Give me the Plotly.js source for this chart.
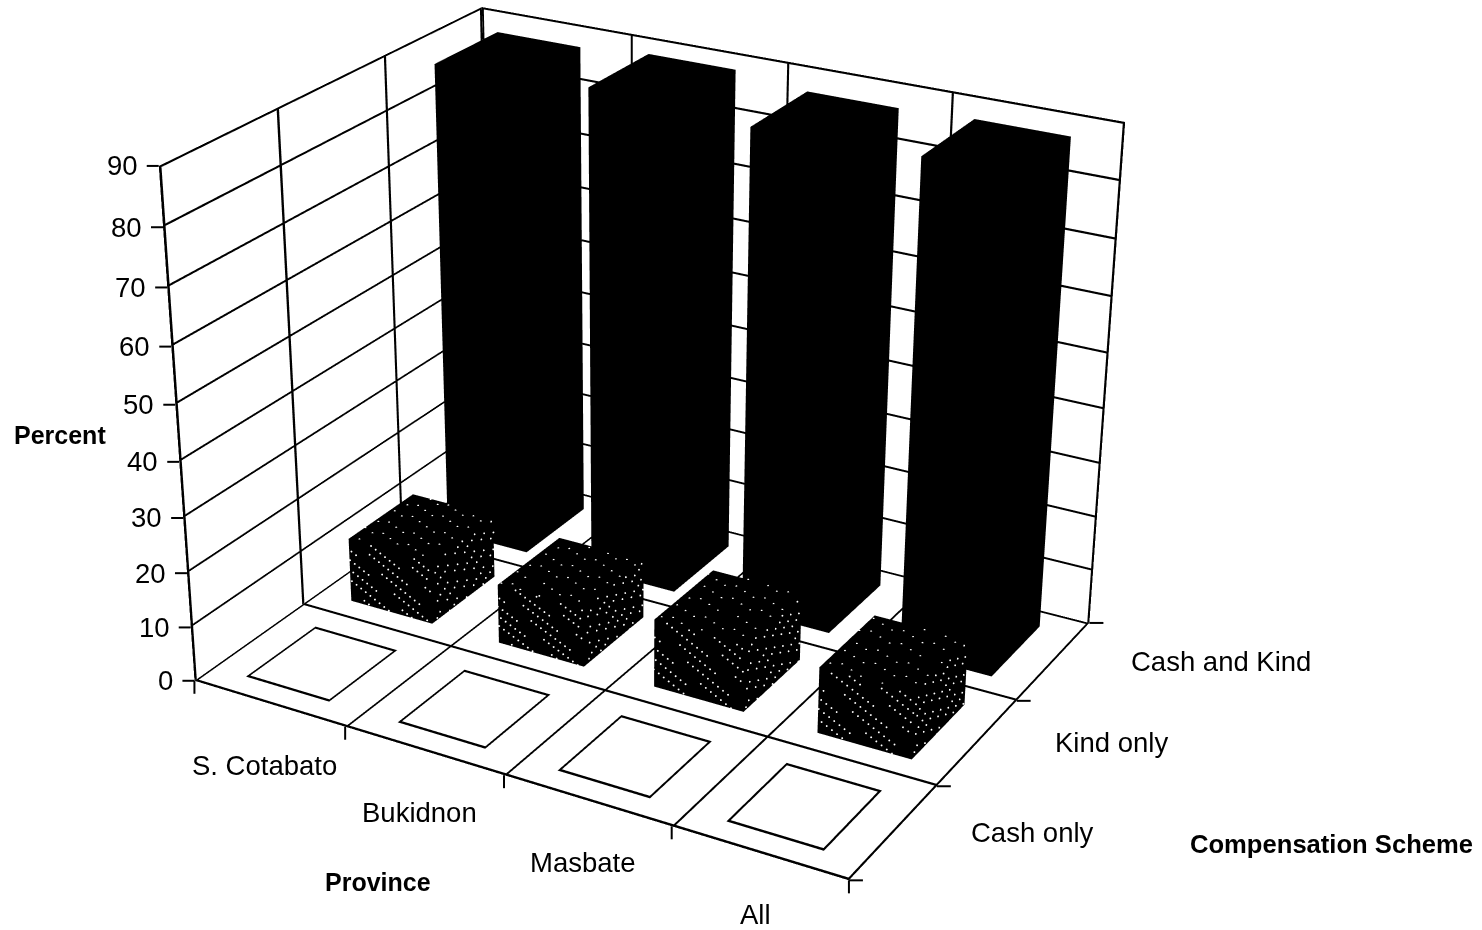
<!DOCTYPE html><html><head><meta charset="utf-8"><script src="https://cdn.plot.ly/plotly-3.0.1.min.js"></script>
<style>html,body{margin:0;padding:0;background:#fff;overflow:hidden;width:1482px;height:930px}#p{position:absolute;left:-217px;top:-831px;width:1700px;height:2640px}</style></head><body><div id="p"></div>
<script>
// data
var provinces=['S. Cotabato','Bukidnon','Masbate','All'];
var schemes=['Cash only','Kind only','Cash and Kind'];
var cashOnly=[0,0,0,0];
var kindOnly=[12,11,12.5,12];
var cashAndKind=[88,89,87.5,88];
var percentTicks=[0,10,20,30,40,50,60,70,80,90];
var provinceEdges=[0,1,2,3,4];
var schemeEdges=[0,1,2,3];

// view of the reference
var aspect={x:1.3356,y:1.0231,z:1};
var eye={x:2.5631,y:-4.5248,z:2.3788};
var center={x:0.051,y:-0.1503,z:-0.0872};
var DIV={left:-217,top:-831,w:1700,h:2640};
var GAPX0=.218,GAPX1=.228,GAPY=.175,INK='#000';
var LABEL='Liberation Sans';
var LX=.013,LY=.021,LZ=.38; // line thickness expressed per axis

function proj(x,y,z){ // data -> window pixels, same camera as the scene
 var p=[(x/4-.5)*aspect.x,(y/3-.5)*aspect.y,(z/90-.5)*aspect.z],e=[eye.x,eye.y,eye.z],c=[center.x,center.y,center.z];
 var f=[c[0]-e[0],c[1]-e[1],c[2]-e[2]],l=Math.hypot(f[0],f[1],f[2]);f=f.map(function(v){return v/l});
 var s=[f[1],-f[0],0],sl=Math.hypot(s[0],s[1]);s=s.map(function(v){return v/sl});
 var u=[s[1]*f[2]-s[2]*f[1],s[2]*f[0]-s[0]*f[2],s[0]*f[1]-s[1]*f[0]];
 var d=[p[0]-e[0],p[1]-e[1],p[2]-e[2]];
 var X=d[0]*s[0]+d[1]*s[1]+d[2]*s[2],Y=d[0]*u[0]+d[1]*u[1]+d[2]*u[2],Z=d[0]*f[0]+d[1]*f[1]+d[2]*f[2];
 var F=DIV.h/2/Math.tan(Math.PI/8);
 return [DIV.left+DIV.w/2+F*X/Z,DIV.top+DIV.h/2-F*Y/Z];}
function px(v){return (v-DIV.left)/DIV.w}
function py(v){return 1-(v-DIV.top)/DIV.h}

var traces=[];
// grid and outlines as thin ribbons lying in their plane
var R={x:[],y:[],z:[],i:[],j:[],k:[]};
function ribbon(a,b,o){var n=R.x.length;
 [[a,[0,0,0]],[b,[0,0,0]],[b,o],[a,o]].forEach(function(q){R.x.push(q[0][0]+q[1][0]);R.y.push(q[0][1]+q[1][1]);R.z.push(q[0][2]+q[1][2])});
 R.i.push(n,n);R.j.push(n+1,n+2);R.k.push(n+2,n+3);}
function wx(e){return e>=4?-LX:LX}
function wy(e){return e>=3?-LY:LY}
function wz(e){return e>=90?-LZ:LZ}
provinceEdges.forEach(function(e){ribbon([e,0,0],[e,3,0],[wx(e),0,0]);ribbon([e,3,0],[e,3,90],[wx(e),0,0])});
schemeEdges.forEach(function(e){ribbon([0,e,0],[4,e,0],[0,wy(e),0]);ribbon([0,e,0],[0,e,90],[0,wy(e),0])});
percentTicks.forEach(function(t){if(t>0){ribbon([0,0,t],[0,3,t],[0,0,wz(t)]);ribbon([0,3,t],[4,3,t],[0,0,wz(t)])}});

// sparse light flecks of the Kind only bars' pattern fill (fixed low-discrepancy layout)
var SX=[],SY=[],SZ=[];
function frac(v){return v-Math.floor(v)}
function stipple(ix,x0,x1,y0,y1,h){
 var n,u,v;
 for(n=1;n<=70;n++){u=frac(n*.6180+ix*.37);v=frac(n*.7549+ix*.21);SX.push(x0+(x1-x0)*u);SY.push(y0-.004);SZ.push(h*v);}
 for(n=1;n<=55;n++){u=frac(n*.5698+ix*.13);v=frac(n*.8191+ix*.41);SX.push(x1+.004);SY.push(y0+(y1-y0)*u);SZ.push(h*v);}
 for(n=1;n<=40;n++){u=frac(n*.6823+ix*.29);v=frac(n*.4656+ix*.17);SX.push(x0+(x1-x0)*u);SY.push(y0+(y1-y0)*v);SZ.push(h+.05);}
}
function bar(ix,iy,h,col){
 var x0=ix+GAPX0,x1=ix+1-GAPX1,y0=iy+GAPY,y1=iy+1-GAPY;
 if(h===0){ribbon([x0,y0,0],[x1,y0,0],[0,LY,0]);ribbon([x0,y1,0],[x1,y1,0],[0,-LY,0]);ribbon([x0,y0,0],[x0,y1,0],[LX,0,0]);ribbon([x1,y0,0],[x1,y1,0],[-LX,0,0]);return;}
 traces.push({type:'mesh3d',x:[x0,x1,x1,x0,x0,x1,x1,x0],y:[y0,y0,y1,y1,y0,y0,y1,y1],z:[0,0,0,0,h,h,h,h],
  i:[7,0,0,0,4,4,6,6,4,0,3,2],j:[3,4,1,2,5,6,5,2,0,1,6,3],k:[0,7,2,3,6,7,1,1,5,5,7,6],color:col,flatshading:true,
  lighting:{ambient:1,diffuse:0,specular:0,fresnel:0,roughness:1},hoverinfo:'skip',showscale:false});
 if(iy===1)stipple(ix,x0,x1,y0,y1,h);
}
provinces.forEach(function(p,i){bar(i,2,cashAndKind[i],'#000');bar(i,1,kindOnly[i],'#000');bar(i,0,cashOnly[i],'#fff');});
traces.push({type:'mesh3d',x:R.x,y:R.y,z:R.z,i:R.i,j:R.j,k:R.k,color:INK,flatshading:true,lighting:{ambient:1,diffuse:0,specular:0,fresnel:0,roughness:1},hoverinfo:'skip',showscale:false});
traces.push({type:'scatter3d',mode:'markers',x:SX,y:SY,z:SZ,marker:{size:1.1,color:'#fff',line:{width:0}},hoverinfo:'skip',showlegend:false});

// tick marks, horizontal or vertical on the page as in the reference
var shapes=[];
function tick(p,dx,dy){shapes.push({type:'line',xref:'paper',yref:'paper',x0:px(p[0]),y0:py(p[1]),x1:px(p[0]+dx),y1:py(p[1]+dy),line:{color:INK,width:2}})}
percentTicks.forEach(function(t){tick(proj(0,0,t),-12,0)});
provinceEdges.forEach(function(e){tick(proj(e,0,0),0,13)});
schemeEdges.forEach(function(e){tick(proj(4,e,0),14,0)});

var tf={family:LABEL,size:27.5,color:INK};
var sceneAnn=[];
provinces.forEach(function(p,i){sceneAnn.push({x:i+.5,y:0,z:0,text:p,showarrow:false,xshift:-4,yshift:-62,font:tf})});
schemes.forEach(function(p,i){sceneAnn.push({x:4,y:i+.5,z:0,text:p,showarrow:false,xanchor:'left',xshift:75,yshift:0,font:tf})});
percentTicks.forEach(function(t){sceneAnn.push({x:0,y:0,z:t,text:String(t),showarrow:false,xanchor:'right',xshift:-19,yshift:0,font:tf})});

var bf={family:LABEL,size:25,color:INK};
var ax={visible:true,showbackground:false,showgrid:false,showline:false,zeroline:false,showticklabels:false,ticks:'',title:{text:''},showspikes:false};
var layout={margin:{l:0,r:0,t:0,b:0,pad:0},paper_bgcolor:'#fff',showlegend:false,hovermode:false,shapes:shapes,
 annotations:[
 {xref:'paper',yref:'paper',x:px(60),y:py(435),xanchor:'center',yanchor:'middle',text:'<b>Percent</b>',showarrow:false,font:bf},
 {xref:'paper',yref:'paper',x:px(378),y:py(882),xanchor:'center',yanchor:'middle',text:'<b>Province</b>',showarrow:false,font:bf},
 {xref:'paper',yref:'paper',x:px(1331),y:py(844),xanchor:'center',yanchor:'middle',text:'<b>Compensation Scheme</b>',showarrow:false,font:{family:LABEL,size:25.6,color:INK}}],
 scene:{domain:{x:[0,1],y:[0,1]},bgcolor:'#fff',aspectmode:'manual',aspectratio:aspect,
  camera:{eye:eye,center:center,up:{x:0,y:0,z:1},projection:{type:'perspective'}},
  annotations:sceneAnn,
  xaxis:Object.assign({},ax,{range:[0,4]}),
  yaxis:Object.assign({},ax,{range:[0,3]}),
  zaxis:Object.assign({},ax,{range:[0,90]})}};
Plotly.newPlot('p',traces,layout,{displayModeBar:false,responsive:false});
</script></body></html>
